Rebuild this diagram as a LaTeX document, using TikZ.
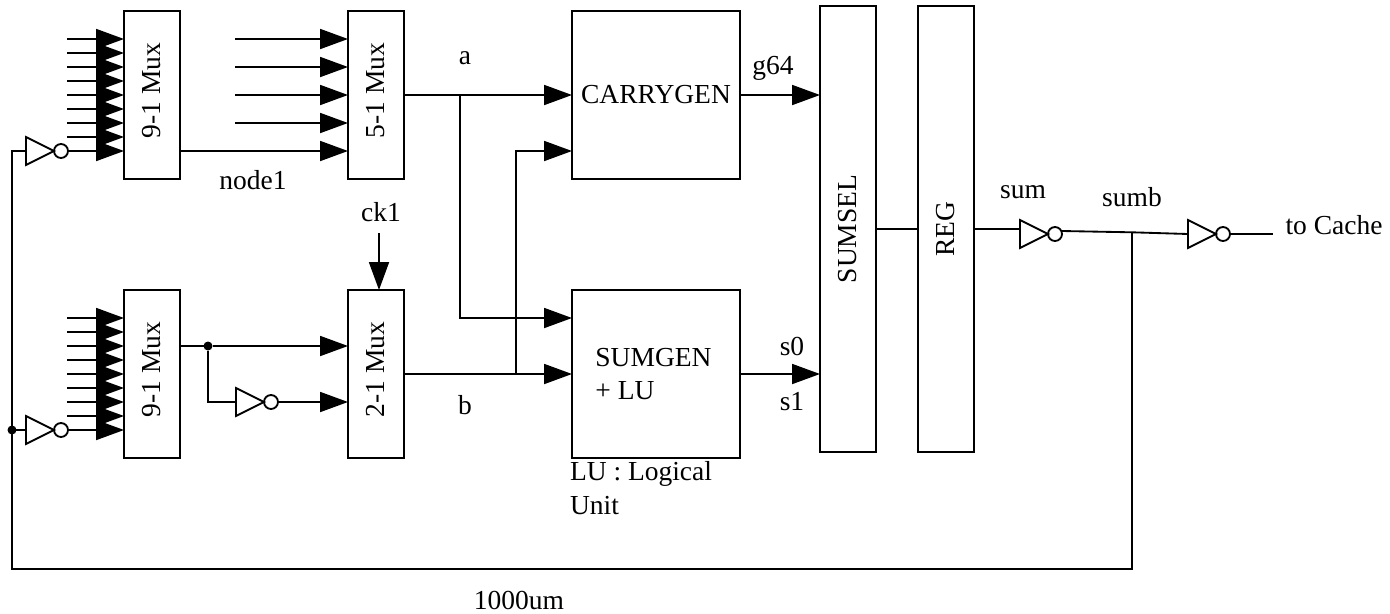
\documentclass[tikz,border=0pt]{standalone}
\usepackage{fontspec}
\usepackage{graphicx}
\setmainfont{Liberation Serif}
\usetikzlibrary{arrows.meta,shapes.geometric}

\newcommand{\muxlabel}[1]{\rotatebox{90}{\hspace*{0.18cm}#1}}

\begin{document}
\begin{tikzpicture}[x=0.02cm, y=-0.02cm, line width=1.05pt,
    every node/.style={inner sep=0pt, outer sep=0pt, align=left, font=\fontsize{15.65}{19.3}\selectfont},
    muxbox/.style={draw, minimum width=1.12cm, minimum height=3.36cm},
    genbox/.style={draw, minimum width=3.36cm, minimum height=3.36cm},
    tallbox/.style={draw, minimum width=1.12cm, minimum height=8.92cm},
    invtri/.style={draw, isosceles triangle, isosceles triangle stretches, anchor=lower side, minimum width=0.56cm, minimum height=0.56cm},
    bubble/.style={draw, circle, minimum size=0.28cm},
    dot/.style={fill, circle, minimum size=0.18cm},
    arr/.style={-{Triangle[length=0.56cm, width=0.4cm]}}]
    \useasboundingbox (0,0) rectangle (1390,613);

    \node[muxbox] (muxa) at (152,95) {\muxlabel{9-1 Mux}};
    \node[muxbox] (muxe) at (376,95) {\muxlabel{5-1 Mux}};
    \node[muxbox] (muxb) at (152,374) {\muxlabel{9-1 Mux}};
    \node[muxbox] (muxt) at (376,374) {\muxlabel{2-1 Mux}};
    \node[genbox] (carrygen) at (656,95) {CARRYGEN};
    \node[genbox] (sumgen) at (656,374) {SUMGEN\hspace*{0.1cm}\\+ LU};
    \node[tallbox] (sumsel) at (848,229) {\rotatebox{90}{SUMSEL}};
    \node[tallbox] (reg) at (946,229) {\rotatebox{90}{REG}};

    \node[invtri] (inva) at (26,151) {};
    \node[bubble] (buba) at (61,151) {};
    \node[invtri] (invb) at (26,430) {};
    \node[bubble] (bubb) at (61,430) {};
    \node[invtri] (invt) at (236,402) {};
    \node[bubble] (bubt) at (271,402) {};
    \node[invtri] (invc) at (1020,234) {};
    \node[bubble] (bubc) at (1055,234) {};
    \node[invtri] (invd) at (1188,234) {};
    \node[bubble] (bubd) at (1223,234) {};

    \node[dot] (dotb) at (12,430) {};
    \node[dot] (dott) at (208,346) {};

    \coordinate (tapa) at (460,95);
    \coordinate (tapb) at (516,374);
    \coordinate (tapc) at (1132,232.3);
    \coordinate (outc) at (1062,231);
    \coordinate (bendb) at (460,318);
    \coordinate (bendc) at (516,151);
    \coordinate (bendt) at (208,402);
    \coordinate (fbkl) at (12,569);
    \coordinate (fbkt) at (12,151);
    \coordinate (ckin) at (379,233);
    \coordinate (cache) at (1273,234);

    % data inputs of the muxes
    \foreach \y in {39,53,...,137} {
        \coordinate (ina\y) at (67,\y);
        \draw[arr] (ina\y) -- (ina\y -| muxa.west);
    }
    \foreach \y in {318,332,...,416} {
        \coordinate (inb\y) at (67,\y);
        \draw[arr] (inb\y) -- (inb\y -| muxb.west);
    }
    \foreach \y in {39,67,95,123} {
        \coordinate (ine\y) at (235,\y);
        \draw[arr] (ine\y) -- (ine\y -| muxe.west);
    }
    \draw[arr] (buba.east) -- (buba.east -| muxa.west);
    \draw[arr] (bubb.east) -- (bubb.east -| muxb.west);
    \draw[arr] (muxa.east |- fbkt) -- (muxe.west |- fbkt);

    \draw (muxb.east |- dott) -- (dott);
    \draw[arr] (dott) -- (dott -| muxt.west);
    \draw (dott) -- (bendt) -- (invt.lower side);
    \draw[arr] (bubt.east) -- (bubt.east -| muxt.west);
    \draw[arr] (ckin) -- (ckin |- muxt.north);

    \draw[arr] (muxe.east |- tapa) -- (tapa -| carrygen.west);
    \draw[arr] (tapa) |- (bendb -| sumgen.west);
    \draw[arr] (muxt.east |- tapb) -- (tapb -| sumgen.west);
    \draw[arr] (tapb) |- (bendc -| carrygen.west);
    \draw[arr] (carrygen.east) -- (carrygen.east -| sumsel.west);
    \draw[arr] (sumgen.east) -- (sumgen.east -| sumsel.west);

    \draw (sumsel.east) -- (reg.west);
    \draw (reg.east) -- (reg.east -| invc.lower side);
    \draw (outc) -- (tapc) -- (invd.lower side);
    \draw (bubd.east) -- (cache);
    \draw (tapc) |- (fbkl) -- (fbkt) -- (inva.lower side);
    \draw (dotb) -- (invb.lower side);

    \node (lbla) at (465,58) {a};
    \node (lblb) at (465,405) {b};
    \node (lblnode) at (253,180) {node1};
    \node (lblck) at (381,212) {ck1};
    \node (lblg) at (773,68) {g64};
    \node (lblszero) at (792,346) {s0};
    \node (lblsone) at (792,402) {s1};
    \node (lblsum) at (1023,192) {sum};
    \node (lblsumb) at (1132,197) {sumb};
    \node (lblcache) at (1334,225) {to Cache};
    \node[anchor=west] (lblunit) at (570,488) {LU : Logical\\Unit};
    \node (lbllen) at (519,600) {1000um};
\end{tikzpicture}
\end{document}
